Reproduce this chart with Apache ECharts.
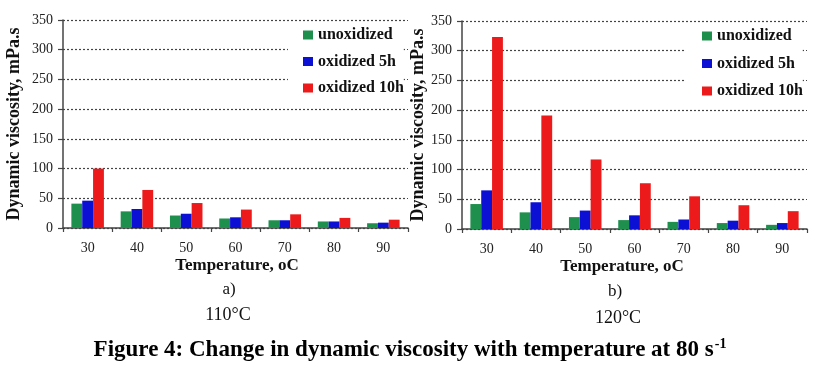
<!DOCTYPE html>
<html>
<head>
<meta charset="utf-8">
<script src="https://cdn.jsdelivr.net/npm/echarts@6/dist/echarts.min.js"></script>
<style>html,body{margin:0;padding:0;background:#fff;}#c{width:820px;height:371px;}</style>
</head>
<body>
<div id="c"></div>
<script>
var categories = ['30', '40', '50', '60', '70', '80', '90'];
var seriesNames = ['unoxidized', 'oxidized 5h', 'oxidized 10h'];
// Panel a) 110°C
var a_unoxidized = [41, 28, 21, 16, 13, 11, 8];
var a_oxidized5h = [46, 32, 24, 18, 13, 11, 9];
var a_oxidized10h = [100, 64, 42, 31, 23, 17, 14];
// Panel b) 120°C
var b_unoxidized = [42, 28, 20, 15, 12, 10, 7];
var b_oxidized5h = [65, 45, 31, 23, 16, 14, 10];
var b_oxidized10h = [323, 191, 117, 77, 55, 40, 30];
var yMin = 0, yMax = 350, yStep = 50;

var colors = ['#1f8f4e', '#0c10d4', '#ec1a1a'];
var serif = '"Liberation Serif", "Times New Roman", serif';

var chart = echarts.init(document.getElementById('c'), null, {renderer: 'canvas'});

function xAxisCfg(gi) {
  return {
    type: 'category', gridIndex: gi, data: categories, boundaryGap: true,
    axisLine: {show: true, lineStyle: {color: '#444', width: 1.5}},
    axisTick: {show: true, length: 4, lineStyle: {color: '#444', width: 1.2}},
    axisLabel: {fontFamily: serif, fontSize: 14, color: '#222', margin: 13},
    splitLine: {show: false}
  };
}
function yAxisCfg(gi, gap) {
  return {
    type: 'value', gridIndex: gi, min: yMin, max: yMax, interval: yStep,
    name: 'Dynamic viscosity, mPa.s', nameLocation: 'middle', nameGap: gap,
    nameTextStyle: {fontFamily: serif, fontSize: 18, fontWeight: 'bold', color: '#111'},
    axisLine: {show: true, lineStyle: {color: '#444', width: 1.5}},
    axisTick: {show: true, length: 5, lineStyle: {color: '#444', width: 1.2}},
    axisLabel: {fontFamily: serif, fontSize: 14, color: '#222', margin: 10},
    splitLine: {show: true, lineStyle: {color: '#444', width: 1.2, type: [2, 2]}}
  };
}
function bar(name, data, gi, ci) {
  return {
    name: name, type: 'bar', xAxisIndex: gi, yAxisIndex: gi, data: data,
    barGap: '0%', barCategoryGap: '34%',
    itemStyle: {color: colors[ci]},
    emphasis: {disabled: true}, animation: false
  };
}
function legendCfg(left, top, gap, padL) {
  return {
    orient: 'vertical', left: left, top: top, data: seriesNames,
    icon: 'rect', itemWidth: 10, itemHeight: 9, itemGap: gap,
    backgroundColor: '#fff', padding: [5, 0, 5, padL],
    textStyle: {fontFamily: serif, fontSize: 16, fontWeight: 'bold', color: '#111', lineHeight: 16},
    selectedMode: false
  };
}

chart.setOption({
  animation: false,
  color: colors,
  grid: [
    {left: 63, right: 412, top: 20, bottom: 143, containLabel: false},
    {left: 462, right: 13, top: 21, bottom: 142, containLabel: false}
  ],
  xAxis: [xAxisCfg(0), xAxisCfg(1)],
  yAxis: [yAxisCfg(0, 40), yAxisCfg(1, 31)],
  legend: [legendCfg(288, 22, 10.5, 15), legendCfg(685, 23, 11.5, 17)],
  title: {
    text: '{a|Figure 4: Change in dynamic viscosity with temperature at 80 s}{b|-1}',
    left: 'center', top: 337, padding: 0,
    textStyle: {
      rich: {
        a: {fontFamily: serif, fontSize: 23, fontWeight: 'bold', color: '#000', verticalAlign: 'bottom', lineHeight: 25},
        b: {fontFamily: serif, fontSize: 14, fontWeight: 'bold', color: '#000', verticalAlign: 'top', padding: [0, 0, 10, 1]}
      }
    }
  },
  graphic: [
    {type: 'text', x: 237, y: 266, style: {text: 'Temperature, oC', font: 'bold 17px ' + serif, fill: '#111', textAlign: 'center', textVerticalAlign: 'middle'}},
    {type: 'text', x: 229, y: 290, style: {text: 'a)', font: '17px ' + serif, fill: '#111', textAlign: 'center', textVerticalAlign: 'middle'}},
    {type: 'text', x: 228, y: 315, style: {text: '110°C', font: '18px ' + serif, fill: '#111', textAlign: 'center', textVerticalAlign: 'middle'}},
    {type: 'text', x: 622, y: 267, style: {text: 'Temperature, oC', font: 'bold 17px ' + serif, fill: '#111', textAlign: 'center', textVerticalAlign: 'middle'}},
    {type: 'text', x: 615, y: 292, style: {text: 'b)', font: '17px ' + serif, fill: '#111', textAlign: 'center', textVerticalAlign: 'middle'}},
    {type: 'text', x: 618, y: 318, style: {text: '120°C', font: '18px ' + serif, fill: '#111', textAlign: 'center', textVerticalAlign: 'middle'}}
  ],
  series: [
    bar(seriesNames[0], a_unoxidized, 0, 0),
    bar(seriesNames[1], a_oxidized5h, 0, 1),
    bar(seriesNames[2], a_oxidized10h, 0, 2),
    bar(seriesNames[0], b_unoxidized, 1, 0),
    bar(seriesNames[1], b_oxidized5h, 1, 1),
    bar(seriesNames[2], b_oxidized10h, 1, 2)
  ]
});
</script>
</body>
</html>
